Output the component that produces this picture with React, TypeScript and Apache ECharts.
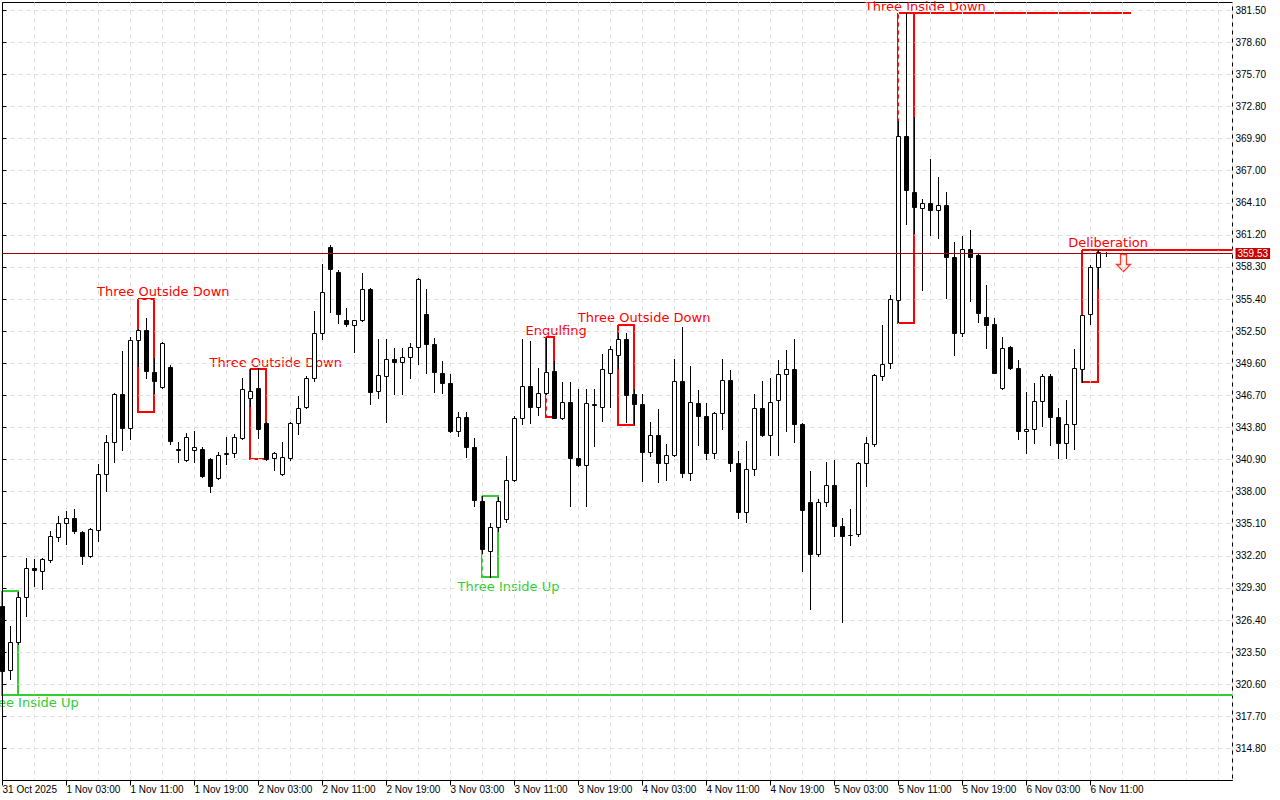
import React, { useEffect, useRef } from 'react';
import * as echarts from 'echarts';

// ---------- DATA (H1 candles, bar index 0 = 31 Oct 2025 19:00) ----------
const opens = [
  327.66, 321.88, 324.41, 328.51, 331.13, 330.82, 331.82, 333.93, 335.20, 335.65,
  334.38, 332.18, 334.53, 339.56, 342.52, 346.79, 343.78, 351.74, 352.58, 348.84,
  347.49, 349.26, 341.85, 340.85, 341.76, 341.88, 340.92, 339.20, 341.40, 341.46,
  342.88, 346.43, 347.40, 344.23, 341.07, 339.56, 341.07, 344.23, 345.68, 348.30,
  352.37, 360.14, 357.88, 353.48, 353.03, 353.48, 356.35, 347.09, 348.45, 350.02,
  349.71, 350.20, 351.10, 354.02, 351.38, 348.75, 347.79, 343.48, 344.78, 342.07,
  337.20, 332.60, 334.80, 335.50, 339.05, 344.69, 347.54, 345.68, 346.95, 348.90,
  344.69, 346.13, 341.07, 340.40, 345.85, 345.68, 348.75, 350.32, 351.83, 346.79,
  345.95, 341.58, 343.11, 340.62, 341.31, 348.03, 339.72, 346.04, 344.83, 341.52,
  345.14, 348.08, 340.62, 336.19, 340.08, 345.53, 343.11, 346.25, 348.66, 349.05,
  344.14, 337.06, 332.40, 337.10, 338.60, 334.89, 334.08, 334.14, 340.62, 342.27,
  348.45, 349.60, 355.29, 370.14, 365.11, 363.67, 364.12, 363.45, 363.90, 359.24,
  352.37, 359.96, 359.36, 353.82, 353.12, 347.40, 351.07, 349.20, 343.48, 343.69,
  346.19, 348.45, 344.78, 342.43, 344.08, 349.12, 354.02, 358.33, 359.60,
];
const closes = [
  321.78, 324.44, 328.51, 331.13, 330.91, 331.88, 334.02, 335.20, 335.65, 334.44,
  332.18, 334.59, 339.56, 342.52, 346.79, 343.78, 351.74, 352.58, 348.90, 347.99,
  351.47, 342.57, 341.80, 342.97, 342.07, 339.41, 338.50, 341.31, 341.45, 342.97,
  347.24, 347.09, 343.63, 340.92, 341.52, 341.16, 344.23, 345.59, 348.24, 352.37,
  356.08, 358.15, 354.09, 353.12, 353.48, 356.35, 347.00, 348.51, 350.02, 349.71,
  350.20, 351.10, 357.19, 351.38, 348.84, 347.79, 343.48, 344.78, 342.07, 337.21,
  332.80, 334.80, 337.20, 339.05, 344.69, 347.54, 345.68, 346.95, 348.84, 344.69,
  346.10, 341.01, 340.40, 345.98, 345.90, 349.05, 350.92, 351.83, 346.73, 345.95,
  341.58, 343.11, 340.62, 341.31, 348.03, 339.72, 346.13, 344.83, 341.52, 345.08,
  348.08, 340.62, 336.19, 340.08, 345.53, 343.11, 346.13, 348.66, 349.12, 344.14,
  336.34, 332.40, 337.10, 338.60, 334.89, 333.99, 334.12, 340.62, 342.43, 348.51,
  349.50, 355.38, 370.14, 365.26, 363.76, 364.12, 363.45, 363.90, 359.24, 352.37,
  359.96, 359.24, 354.18, 353.06, 348.75, 351.01, 349.20, 343.48, 343.69, 346.19,
  348.45, 344.74, 342.43, 344.08, 349.20, 353.93, 358.33, 359.65, 359.53,
];
const lows = [
  319.70, 321.03, 324.20, 326.76, 329.47, 329.23, 331.64, 333.53, 333.24, 334.29,
  331.43, 332.12, 333.53, 338.05, 340.67, 341.76, 342.73, 349.35, 348.30, 346.95,
  347.40, 342.27, 340.67, 340.80, 340.67, 339.30, 338.00, 339.10, 340.47, 341.16,
  342.80, 345.74, 342.88, 340.90, 339.95, 339.50, 340.90, 343.18, 345.60, 347.99,
  351.76, 354.23, 353.27, 353.00, 350.62, 353.40, 345.95, 346.46, 344.29, 346.79,
  346.80, 348.30, 349.50, 348.75, 347.00, 346.95, 343.40, 343.02, 341.16, 336.70,
  332.50, 330.25, 334.40, 335.30, 339.00, 344.08, 344.23, 344.90, 346.80, 344.71,
  344.60, 336.70, 340.30, 336.70, 342.12, 344.38, 345.65, 349.20, 344.29, 344.08,
  338.96, 341.22, 338.87, 339.05, 341.20, 339.32, 339.05, 342.21, 340.98, 341.07,
  343.69, 339.86, 335.58, 335.29, 339.50, 343.02, 341.31, 341.30, 343.48, 342.48,
  330.82, 327.42, 332.18, 336.70, 333.99, 326.25, 333.17, 334.00, 338.50, 342.12,
  348.06, 349.14, 353.30, 362.16, 361.41, 356.19, 361.16, 360.96, 355.53, 350.32,
  352.06, 355.23, 353.33, 351.01, 348.70, 347.30, 349.10, 342.73, 341.52, 342.36,
  343.93, 342.18, 341.07, 341.07, 341.82, 347.90, 353.18, 356.44, 359.29,
];
const highs = [
  328.10, 325.85, 328.96, 331.97, 331.88, 331.97, 334.44, 335.79, 336.25, 336.40,
  334.44, 334.74, 340.53, 343.09, 346.88, 350.68, 352.00, 352.67, 353.73, 350.11,
  351.55, 349.41, 342.52, 343.33, 343.48, 342.00, 341.00, 341.61, 342.93, 343.18,
  348.30, 349.05, 349.20, 344.30, 341.60, 342.52, 344.30, 346.64, 348.45, 354.32,
  358.54, 360.30, 358.00, 354.63, 353.50, 357.79, 356.40, 351.76, 351.76, 351.01,
  351.00, 351.47, 357.30, 356.35, 351.92, 349.80, 348.60, 345.19, 345.20, 342.88,
  337.57, 335.20, 337.50, 341.22, 344.80, 351.76, 351.61, 349.20, 351.90, 349.80,
  347.90, 347.90, 347.24, 347.24, 347.24, 350.41, 351.20, 352.30, 352.31, 347.24,
  346.79, 344.33, 345.44, 342.34, 349.96, 352.91, 349.35, 347.15, 346.04, 345.20,
  350.02, 348.96, 341.67, 342.57, 346.79, 348.00, 348.24, 349.87, 350.77, 351.76,
  344.20, 339.86, 337.30, 340.71, 340.83, 335.65, 336.40, 340.70, 342.93, 348.66,
  353.03, 355.74, 371.49, 381.23, 371.89, 364.48, 368.10, 366.47, 365.11, 360.56,
  361.10, 361.64, 359.50, 356.64, 353.73, 352.01, 351.20, 349.87, 347.00, 347.85,
  348.60, 348.60, 345.53, 346.28, 350.86, 354.00, 358.50, 359.81, 359.70,
];

const xTickBars = [0, 8, 16, 24, 32, 40, 48, 56, 64, 72, 80, 88, 96, 104, 112, 120, 128, 136];
const xTickLabels = [
  '31 Oct 2025', '1 Nov 03:00', '1 Nov 11:00', '1 Nov 19:00', '2 Nov 03:00', '2 Nov 11:00',
  '2 Nov 19:00', '3 Nov 03:00', '3 Nov 11:00', '3 Nov 19:00', '4 Nov 03:00', '4 Nov 11:00',
  '4 Nov 19:00', '5 Nov 03:00', '5 Nov 11:00', '5 Nov 19:00', '6 Nov 03:00', '6 Nov 11:00',
];
const yTicks = [
  314.8, 317.7, 320.6, 323.5, 326.4, 329.3, 332.2, 335.1, 338.0, 340.9, 343.8, 346.7,
  349.6, 352.5, 355.4, 358.3, 361.2, 364.1, 367.0, 369.9, 372.8, 375.7, 378.6, 381.5,
];

const currentPrice = 359.53;

// candlestick patterns found on the chart
const patternNames = [
  'Three Inside Up', 'Three Outside Down', 'Three Outside Down', 'Three Inside Up',
  'Engulfing', 'Three Outside Down', 'Three Inside Down', 'Deliberation',
];
const patternStart = [0, 17, 31, 60, 68, 77, 112, 135];
const patternEnd = [2, 19, 33, 62, 69, 79, 114, 137];
const patternLow = [319.66, 345.17, 340.92, 330.25, 344.71, 344.02, 353.26, 347.88];
const patternHigh = [328.99, 355.38, 349.05, 337.57, 351.94, 353.06, 381.23, 359.81];
const patternLabelBar = [3.15, 20.1, 34.15, 63.25, 69.2, 80.2, 115.35, 138.2];
const patternLabelPrice = [318.96, 356.1, 349.71, 329.44, 352.58, 353.73, 381.85, 360.47];
const patternExtendTo = [153.75, -1, -1, -1, -1, -1, 141, 153.75]; // level line extension (bar)
const patternExtendSide = ['low', '', '', '', '', '', 'high', 'high'];
const patternBullish = [true, false, false, true, false, false, false, false];

const signalBar = [140];
const signalPrice = [359.45];

// ---------- STYLE ----------
const X_MIN = 0;
const X_MAX = 153.75;
const Y_MIN = 311.9;
const Y_MAX = 382.2;
const AXIS_FONT = '"Liberation Sans", Arial, sans-serif';
const LABEL_FONT = '"DejaVu Sans", Verdana, sans-serif';
const GREEN = '#32cd32';
const RED = '#ff0000';
const GRID_COLOR = '#dedede';

export default function App() {
  const ref = useRef<HTMLDivElement>(null);

  useEffect(() => {
    if (!ref.current) return;
    const chart = echarts.init(ref.current, undefined, { renderer: 'svg' });

    const candleData = opens.map((o, i) => [i, o, closes[i], lows[i], highs[i]]);
    const patternData = patternStart.map((s, k) => [
      s, patternEnd[k], patternLow[k], patternHigh[k], patternExtendTo[k],
      patternLabelBar[k], patternLabelPrice[k],
    ]);
    const signalData = signalBar.map((b, k) => [b, signalPrice[k]]);

    const option: any = {
      animation: false,
      backgroundColor: '#ffffff',
      grid: {
        left: 2.5, right: 47.5, top: 2.5, bottom: 19.5,
        show: true, borderColor: '#000', borderWidth: 1, backgroundColor: 'transparent',
        containLabel: false, outerBoundsMode: 'none',
      },
      xAxis: [
        {
          type: 'value', min: X_MIN, max: X_MAX, position: 'bottom', z: 1,
          axisLine: { show: true, onZero: false, lineStyle: { color: '#000', width: 1 } },
          axisTick: { show: true, length: 5, customValues: xTickBars, lineStyle: { color: '#000' } },
          axisLabel: {
            show: true, customValues: xTickBars, margin: 4, align: 'left',
            color: '#000', fontFamily: AXIS_FONT, fontSize: 10,
            formatter: (v: number) => {
              const k = xTickBars.indexOf(Math.round(v));
              return k >= 0 ? xTickLabels[k] : '';
            },
          },
          splitLine: { show: false },
        },
        {
          type: 'value', min: X_MIN, max: X_MAX, interval: 4, position: 'top', z: 1,
          axisLine: { show: false }, axisTick: { show: false }, axisLabel: { show: false },
          splitLine: { show: true, lineStyle: { color: GRID_COLOR, width: 1, type: [4, 4] } },
        },
      ],
      yAxis: {
        type: 'value', min: Y_MIN, max: Y_MAX, position: 'right', z: 1,
        axisLine: { show: true, lineStyle: { color: '#000', width: 1 } },
        axisTick: { show: true, length: 4, customValues: yTicks, lineStyle: { color: '#000' } },
        axisLabel: {
          show: true, customValues: yTicks, margin: 3, color: '#000',
          fontFamily: AXIS_FONT, fontSize: 10,
          formatter: (v: number) => v.toFixed(2),
        },
        splitLine: { show: true, lineStyle: { color: GRID_COLOR, width: 1, type: [4, 4] } },
      },
      series: [
        {
          type: 'custom', name: 'patterns', z: 0, silent: true, clip: false,
          xAxisIndex: 0, yAxisIndex: 0,
          encode: { x: [0, 1, 5], y: [2, 3, 6] },
          data: patternData,
          renderItem: (params: any, api: any) => {
            const k = params.dataIndex;
            const color = patternBullish[k] ? GREEN : RED;
            const s = api.value(0), e = api.value(1), lo = api.value(2), hi = api.value(3);
            const ext = api.value(4);
            const p1 = api.coord([s, hi]);
            const p2 = api.coord([e, lo]);
            const x1 = Math.floor(p1[0]), x2 = Math.floor(p2[0]);
            const yT = Math.round(p1[1]), yB = Math.round(p2[1]);
            const children: any[] = [
              {
                type: 'polyline',
                shape: { points: [[x1, yT], [x2, yT], [x2, yB], [x1, yB], [x1, yT]] },
                style: { stroke: color, lineWidth: 2, fill: null },
              },
            ];
            if (ext >= 0) {
              const side = patternExtendSide[k];
              const yy = side === 'low' ? yB : yT;
              const pe = api.coord([ext, side === 'low' ? lo : hi]);
              children.push({
                type: 'line',
                shape: { x1: x1, y1: yy, x2: Math.round(pe[0]), y2: yy },
                style: { stroke: color, lineWidth: 2 },
              });
            }
            const pl = api.coord([api.value(5), api.value(6)]);
            children.push({
              type: 'text', x: pl[0], y: pl[1],
              style: {
                text: patternNames[k], fill: color, align: 'center', verticalAlign: 'middle',
                font: `13px ${LABEL_FONT}`,
              },
            });
            return { type: 'group', children };
          },
        },
        {
          type: 'custom', name: 'signal', z: 0, silent: true, clip: false,
          encode: { x: 0, y: 1 },
          data: signalData,
          renderItem: (params: any, api: any) => {
            const p = api.coord([api.value(0), api.value(1)]);
            const cx = Math.round(p[0]) + 0.5, ty = Math.round(p[1]) + 0.5;
            const pts = [[-3, 0], [3, 0], [3, 10], [7, 10], [0, 17], [-7, 10], [-3, 10], [-3, 0]]
              .map(([dx, dy]) => [cx + dx, ty + dy]);
            return {
              type: 'polygon', shape: { points: pts },
              style: { fill: '#fff6f0', stroke: '#ff3a2a', lineWidth: 1.3 },
            };
          },
        },
        {
          type: 'custom', name: 'candles', z: 3, silent: true, clip: false,
          xAxisIndex: 0, yAxisIndex: 0,
          encode: { x: 0, y: [1, 2, 3, 4] },
          data: candleData,
          renderItem: (params: any, api: any) => {
            const i = api.value(0);
            const o = api.value(1), c = api.value(2), l = api.value(3), h = api.value(4);
            const pO = api.coord([i, o]);
            const pC = api.coord([i, c]);
            const pL = api.coord([i, l]);
            const pH = api.coord([i, h]);
            const cx = Math.floor(pO[0]) + 0.5;
            const top = Math.round(Math.min(pO[1], pC[1])) + 0.5;
            const bot = Math.round(Math.max(pO[1], pC[1])) + 0.5;
            const bull = c >= o;
            return {
              type: 'group',
              children: [
                {
                  type: 'line',
                  shape: { x1: cx, y1: Math.round(pH[1]), x2: cx, y2: Math.round(pL[1]) + 1 },
                  style: { stroke: '#000', lineWidth: 1 },
                },
                {
                  type: 'rect',
                  shape: { x: cx - 2, y: top, width: 4, height: Math.max(bot - top, 0) },
                  style: { fill: bull ? '#ffffff' : '#000000', stroke: '#000', lineWidth: 1 },
                },
              ],
            };
          },
          markLine: {
            silent: true, symbol: 'none', animation: false,
            lineStyle: { color: '#a00000', width: 1, type: 'solid' },
            label: {
              show: true, position: 'end', distance: 3,
              formatter: () => currentPrice.toFixed(2),
              color: '#ffffff', backgroundColor: '#c80000', padding: [1, 2, 0, 2],
              fontFamily: AXIS_FONT, fontSize: 10,
            },
            data: [{ yAxis: currentPrice }],
          },
        },
      ],
    };

    chart.setOption(option);
    return () => chart.dispose();
  }, []);

  return (
    <div
      ref={ref}
      style={{ position: 'fixed', left: 0, top: 0, width: 1280, height: 800, background: '#fff' }}
    />
  );
}
